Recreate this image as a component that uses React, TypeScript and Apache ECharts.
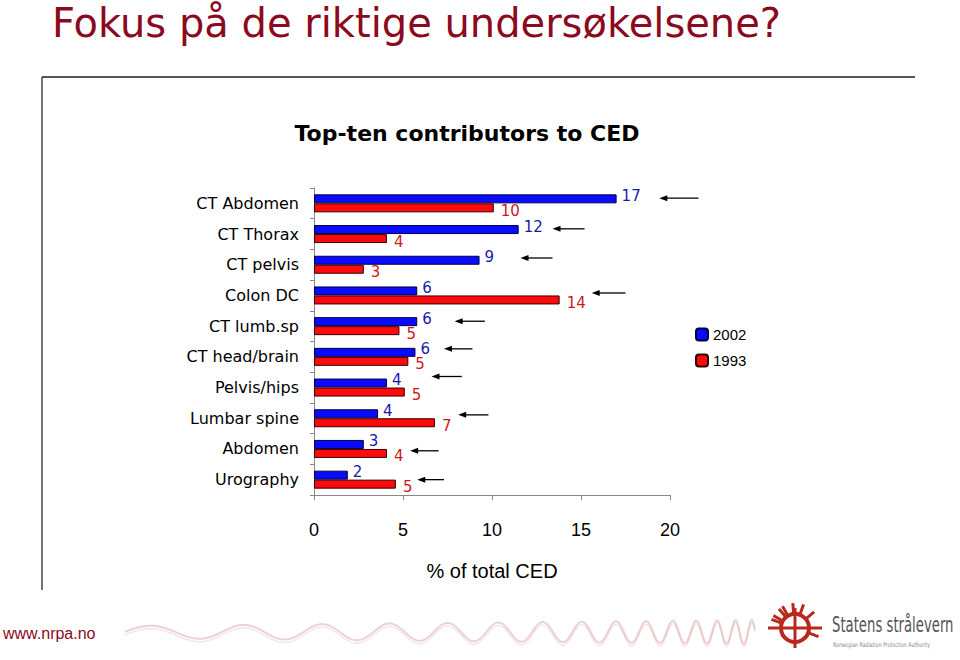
import React, { useEffect, useRef } from "react";
import * as echarts from "echarts";

const categories = [
  "CT Abdomen",
  "CT Thorax",
  "CT pelvis",
  "Colon DC",
  "CT lumb.sp",
  "CT head/brain",
  "Pelvis/hips",
  "Lumbar spine",
  "Abdomen",
  "Urography",
];
const values2002 = [17.0, 11.5, 9.3, 5.8, 5.8, 5.7, 4.1, 3.6, 2.8, 1.9];
const values1993 = [10.1, 4.1, 2.8, 13.8, 4.8, 5.3, 5.1, 6.8, 4.1, 4.6];
const xTicks = [0, 5, 10, 15, 20];
// arrows: from (head), to (tail), in % units; vertical shift in band fractions
const arrowFrom = [19.4, 13.4, 11.6, 15.6, 7.9, 7.3, 6.6, 8.1, 5.4, 5.8];
const arrowTo = [21.6, 15.2, 13.4, 17.5, 9.6, 8.9, 8.3, 9.8, 7.0, 7.3];
const arrowShift = [-0.17, -0.17, -0.22, -0.08, -0.16, -0.26, -0.36, -0.11, 0.06, 0.0];

const TITLE_RED = "#8b0a1e";
const COMIC = "'Comic Sans MS', 'DejaVu Sans', sans-serif";

function wavePoints(): number[][] {
  const pts: number[][] = [];
  const x0 = 125, x1 = 755;
  let phase = 0;
  for (let x = x0; x <= x1; x += 1) {
    const t = (x - x0) / (x1 - x0);
    const period = 110 - 95 * Math.pow(t, 0.8);
    phase += (2 * Math.PI) / period;
    const amp = 6 + 6 * t;
    pts.push([x, 632 - amp * Math.sin(phase)]);
  }
  return pts;
}

export default function App() {
  const ref = useRef<HTMLDivElement>(null);
  useEffect(() => {
    if (!ref.current) return;
    const chart = echarts.init(ref.current, null, { renderer: "svg" });
    const wave = wavePoints();
    const rays: any[] = [];
    const cx = 795, cy = 628;
    const rayAngles = [-150, -120, -95, -70, -40, 200, 230, 20];
    rayAngles.forEach((a) => {
      const r = (a * Math.PI) / 180;
      rays.push({
        type: "line",
        shape: {
          x1: cx + 15 * Math.cos(r),
          y1: cy + 15 * Math.sin(r),
          x2: cx + 25 * Math.cos(r),
          y2: cy + 25 * Math.sin(r),
        },
        style: { stroke: "#b8281c", lineWidth: 3 },
      });
    });

    const arrowData = categories.map((_, i) => [arrowFrom[i], arrowTo[i], i, arrowShift[i]]);

    chart.setOption({
      animation: false,
      backgroundColor: "#ffffff",
      title: {
        text: "Top-ten contributors to CED",
        left: 462,
        top: 117,
        textAlign: "center",
        textStyle: { fontFamily: COMIC, fontSize: 22, fontWeight: "bold", color: "#000" },
      },
      legend: {
        orient: "vertical",
        left: 690,
        top: 322,
        itemWidth: 12,
        itemHeight: 12,
        itemGap: 11,
        data: ["2002", "1993"],
        textStyle: { fontFamily: "'Liberation Sans', Arial, sans-serif", fontSize: 15, color: "#000" },
      },
      grid: { left: 314, top: 188, width: 356, height: 307 },
      xAxis: {
        type: "value",
        min: xTicks[0],
        max: xTicks[xTicks.length - 1],
        interval: 5,
        splitLine: { show: false },
        axisLine: { show: true, lineStyle: { color: "#888", width: 1 } },
        axisTick: { show: true, length: 5, lineStyle: { color: "#888" } },
        axisLabel: {
          margin: 26,
          fontSize: 18,
          color: "#000",
          fontFamily: "'Liberation Sans', Arial, sans-serif",
        },
        name: "% of total CED",
        nameLocation: "middle",
        nameGap: 66,
        nameTextStyle: {
          fontSize: 20,
          color: "#000",
          fontFamily: "'Liberation Sans', Arial, sans-serif",
        },
      },
      yAxis: {
        type: "category",
        data: categories,
        inverse: true,
        axisLine: { show: true, lineStyle: { color: "#888", width: 1 } },
        axisTick: { show: true, length: 4, lineStyle: { color: "#888" } },
        axisLabel: { margin: 15, fontSize: 16, color: "#000", fontFamily: COMIC },
      },
      series: [
        {
          name: "2002",
          type: "bar",
          data: values2002,
          barWidth: 9,
          barGap: "0%",
          itemStyle: { color: "#0a0aff", borderColor: "#000040", borderWidth: 1 },
          label: {
            show: true,
            position: "right",
            distance: 5,
            offset: [0, -3],
            formatter: (p: any) => String(Math.round(p.value)),
            color: "#1a1aa8",
            fontSize: 15,
            fontFamily: COMIC,
          },
        },
        {
          name: "1993",
          type: "bar",
          data: values1993,
          barWidth: 9,
          barGap: "0%",
          itemStyle: { color: "#ff0a0a", borderColor: "#300000", borderWidth: 1 },
          label: {
            show: true,
            position: "right",
            distance: 7,
            offset: [0, 3],
            formatter: (p: any) => String(Math.round(p.value)),
            color: "#d01818",
            fontSize: 15,
            fontFamily: COMIC,
          },
        },
        {
          name: "arrows",
          type: "custom",
          clip: false,
          silent: true,
          encode: { x: [0, 1], y: 2 },
          data: arrowData,
          renderItem: (params: any, api: any) => {
            const p1 = api.coord([api.value(0), api.value(2)]);
            const p2 = api.coord([api.value(1), api.value(2)]);
            const band = api.size([0, 1])[1];
            const y = p1[1] + api.value(3) * band;
            return {
              type: "group",
              children: [
                {
                  type: "line",
                  shape: { x1: p1[0] + 4, y1: y, x2: p2[0], y2: y },
                  style: { stroke: "#000", lineWidth: 1.3 },
                },
                {
                  type: "polygon",
                  shape: { points: [[p1[0], y], [p1[0] + 8, y - 3], [p1[0] + 8, y + 3]] },
                  style: { fill: "#000" },
                },
              ],
            };
          },
        },
      ],
      graphic: [
        {
          type: "text",
          left: 52,
          top: 3,
          style: {
            text: "Fokus på de riktige undersøkelsene?",
            fontFamily: COMIC,
            fontSize: 40,
            fill: TITLE_RED,
          },
        },
        {
          type: "line",
          shape: { x1: 42, y1: 77, x2: 915, y2: 77 },
          style: { stroke: "#555", lineWidth: 2 },
        },
        {
          type: "line",
          shape: { x1: 42, y1: 77, x2: 42, y2: 590 },
          style: { stroke: "#444", lineWidth: 1.5 },
        },
        {
          type: "text",
          left: 3,
          top: 625,
          style: {
            text: "www.nrpa.no",
            fontFamily: "'Liberation Sans', Arial, sans-serif",
            fontSize: 16,
            fill: TITLE_RED,
          },
        },
        {
          type: "polyline",
          shape: { points: wave },
          style: { stroke: "rgba(200,130,130,0.35)", lineWidth: 2, fill: "none" },
        },
        {
          type: "polyline",
          shape: { points: wave.map((p) => [p[0], p[1] + 3]) },
          style: { stroke: "rgba(200,130,130,0.2)", lineWidth: 1.5, fill: "none" },
        },
        {
          type: "circle",
          shape: { cx, cy, r: 14 },
          style: { fill: "none", stroke: "#b8281c", lineWidth: 4 },
        },
        {
          type: "line",
          shape: { x1: cx - 27, y1: cy, x2: cx + 27, y2: cy },
          style: { stroke: "#b8281c", lineWidth: 3 },
        },
        {
          type: "line",
          shape: { x1: cx, y1: cy - 20, x2: cx, y2: cy + 20 },
          style: { stroke: "#b8281c", lineWidth: 3 },
        },
        ...rays,
        {
          type: "text",
          x: 832,
          y: 614,
          scaleX: 0.63,
          style: {
            text: "Statens strålevern",
            fontFamily: "'DejaVu Sans', sans-serif",
            fontSize: 21,
            fill: "#555",
          },
        },
        {
          type: "text",
          x: 833,
          y: 641,
          scaleX: 0.72,
          style: {
            text: "Norwegian Radiation Protection Authority",
            fontFamily: "'DejaVu Sans', sans-serif",
            fontSize: 6.5,
            fill: "#888",
          },
        },
      ],
    });
    return () => chart.dispose();
  }, []);
  return (
    <div
      ref={ref}
      style={{ position: "fixed", left: 0, top: 0, width: 960, height: 660 }}
    />
  );
}
